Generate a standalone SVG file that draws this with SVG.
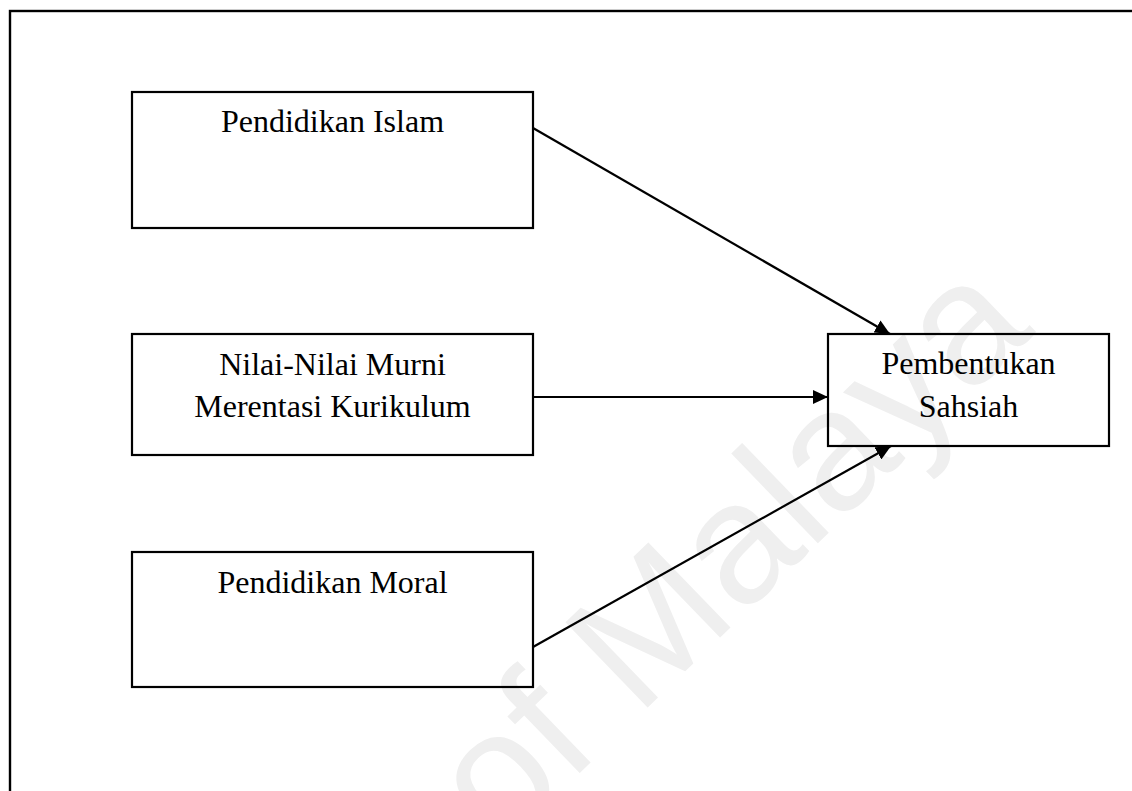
<svg xmlns="http://www.w3.org/2000/svg" width="1132" height="791" viewBox="0 0 1132 791">
  <style>
    .box { fill: none; stroke: #000000; stroke-width: 2.2; }
    .label { font-family: "Liberation Serif", "Times New Roman", serif; font-size: 32px; fill: #000000; text-anchor: middle; }
    .link { stroke: #000000; stroke-width: 2.2; fill: none; marker-end: url(#arrow); }
    .mark { font-family: "Liberation Sans", Arial, sans-serif; font-size: 172px; fill: #efefef; }
  </style>
  <defs>
    <marker id="arrow" markerUnits="userSpaceOnUse" markerWidth="16" markerHeight="14" refX="15" refY="7" orient="auto">
      <path d="M0,0 L15,7 L0,14 Z" fill="#000000"/>
    </marker>
  </defs>

  <rect width="1132" height="791" fill="#ffffff"/>

  <!-- background watermark -->
  <text class="mark" transform="translate(500,850) rotate(-44)">of Malaya</text>

  <!-- outer frame, running past the right and bottom edges -->
  <rect x="10" y="11" width="1200" height="900" fill="none" stroke="#000000" stroke-width="2.4"/>

  <g id="node-pendidikan-islam">
    <rect class="box" x="132" y="92" width="401" height="136"/>
    <text class="label" x="332.5" y="132">Pendidikan Islam</text>
  </g>

  <g id="node-nilai-murni">
    <rect class="box" x="132" y="334" width="401" height="121"/>
    <text class="label" x="332.5" y="375">Nilai-Nilai Murni</text>
    <text class="label" x="332.5" y="417">Merentasi Kurikulum</text>
  </g>

  <g id="node-pendidikan-moral">
    <rect class="box" x="132" y="552" width="401" height="135"/>
    <text class="label" x="332.5" y="593">Pendidikan Moral</text>
  </g>

  <g id="node-pembentukan-sahsiah">
    <rect class="box" x="828" y="334" width="281" height="112"/>
    <text class="label" x="968.5" y="374">Pembentukan</text>
    <text class="label" x="968.5" y="417">Sahsiah</text>
  </g>

  <g id="connectors">
    <line class="link" x1="533" y1="128" x2="890" y2="334"/>
    <line class="link" x1="533" y1="397" x2="828" y2="397"/>
    <line class="link" x1="533" y1="647" x2="891" y2="446"/>
  </g>
</svg>
